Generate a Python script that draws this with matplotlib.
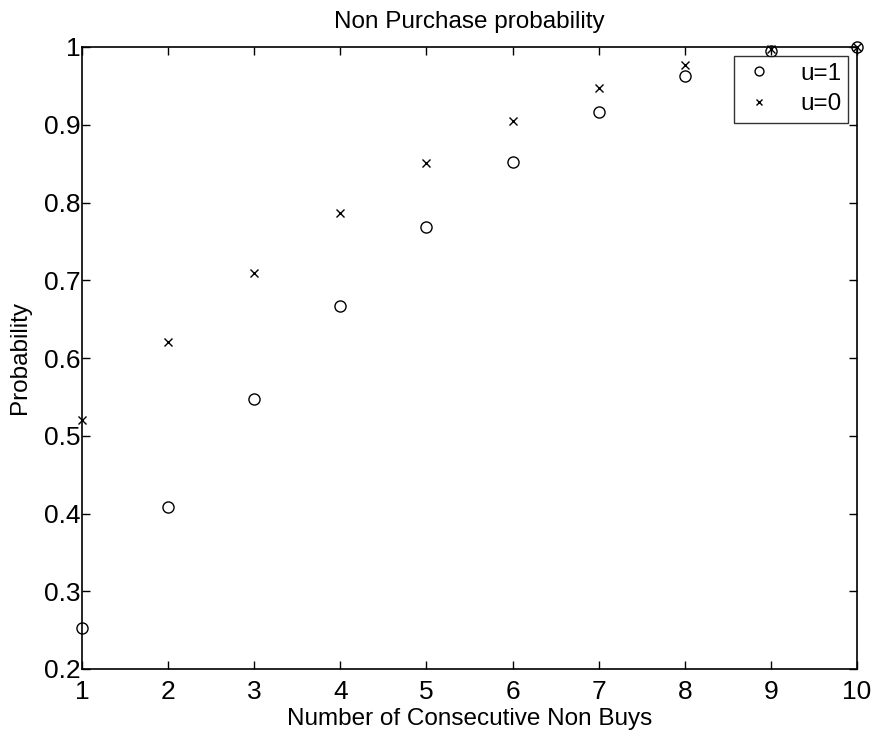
import matplotlib
matplotlib.use("Agg")
import matplotlib.pyplot as plt

plt.rcParams['font.family'] = ['Liberation Sans', 'DejaVu Sans']

n_nonbuys = [1, 2, 3, 4, 5, 6, 7, 8, 9, 10]
prob_u1 = [0.253, 0.408, 0.547, 0.667, 0.769, 0.852, 0.916, 0.963, 0.995, 1.0]
prob_u0 = [0.520, 0.620, 0.709, 0.786, 0.851, 0.905, 0.947, 0.977, 0.997, 1.0]
yticks = [0.2, 0.3, 0.4, 0.5, 0.6, 0.7, 0.8, 0.9, 1.0]
ytick_labels = ['0.2', '0.3', '0.4', '0.5', '0.6', '0.7', '0.8', '0.9', '1']

fig = plt.figure(figsize=(8.77, 7.33), dpi=100)
ax = fig.add_axes([82/877, 1-669/733, (857-82)/877, (669-47)/733])

ax.plot(n_nonbuys, prob_u1, linestyle='none', marker='o', markersize=8,
        markerfacecolor='none', markeredgecolor='black', markeredgewidth=1.0,
        label='u=1', clip_on=False)
ax.plot(n_nonbuys, prob_u0, linestyle='none', marker='x', markersize=6,
        color='black', markeredgewidth=1.0, label='u=0', clip_on=False)

ax.set_xlim(1, 10)
ax.set_ylim(0.2, 1.0)
ax.set_xticks(n_nonbuys)
ax.set_yticks(yticks)
ax.set_yticklabels(ytick_labels)
ax.tick_params(direction='in', top=True, right=True, labelsize=19, length=6,
               width=1.0)
ax.tick_params(axis='x', pad=8)
ax.tick_params(axis='y', pad=1)
for s in ax.spines.values():
    s.set_linewidth(1.2)

ax.set_title('Non Purchase probability', fontsize=17.5, pad=14)
ax.set_xlabel('Number of Consecutive Non Buys', fontsize=17.5, labelpad=3)
ax.set_ylabel('Probability', fontsize=17.5, labelpad=9)

leg = ax.legend(loc='upper right', fontsize=17.5, frameon=True, fancybox=False,
                edgecolor='black', borderaxespad=0.35, handletextpad=1.0,
                handlelength=1.4, borderpad=0.3, labelspacing=0.35,
                markerscale=0.8)
leg.get_frame().set_linewidth(1.0)

fig.savefig('out.png', dpi=100)
